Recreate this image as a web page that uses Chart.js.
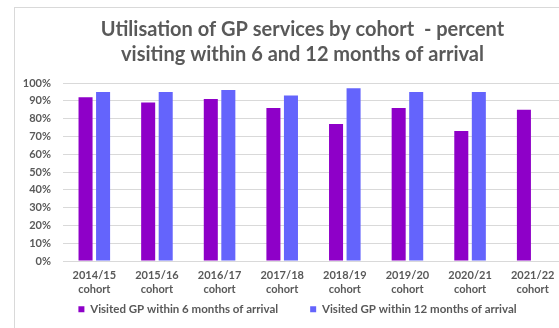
<!DOCTYPE html>
<html>
<head>
<meta charset="utf-8">
<script src="https://cdn.jsdelivr.net/npm/chart.js@4"></script>
<style>
  html, body { margin: 0; padding: 0; background: #fff; overflow: hidden; }
  #wrap { position: relative; width: 559px; height: 328px; overflow: hidden; }
  #box {
    position: absolute; left: 14px; top: 7px;
    width: 561px; height: 320px;
    border-left: 1px solid #d9d9d9; border-top: 1px solid #d9d9d9;
  }
  canvas { display: block; }
</style>
</head>
<body>
<div id="wrap"><div id="box"><canvas id="gp" width="561" height="320"></canvas></div></div>
<script>
const cohorts = ['2014/15', '2015/16', '2016/17', '2017/18', '2018/19', '2019/20', '2020/21', '2021/22'];
const within6 = [92, 89, 91, 86, 77, 86, 73, 85];
const within12 = [95, 95, 96, 93, 97, 95, 95, null];

const grey = '#595959';
const fam = "Lato, 'Open Sans', sans-serif";

// The wide gap between the two legend entries also pads the legend vertically
// in Chart.js; trim that height and lift the legend's top so it sits close
// under the axis labels (the legend is clipped to its own box).
const LEGEND_TRIM = 31.5;
const boxTweaks = {
  id: 'boxTweaks',
  afterInit(chart) {
    const lg = chart.legend;
    const fit = lg.fit;
    lg.fit = function () { fit.call(this); this.height -= LEGEND_TRIM; };
  },
  afterLayout(chart) {
    const lg = chart.legend, tb = chart.titleBlock;
    lg.top -= LEGEND_TRIM;
    lg.left += 8; lg.right += 8;
    tb.left += 13; tb.right += 13;
  }
};

new Chart(document.getElementById('gp'), {
  type: 'bar',
  data: {
    labels: cohorts.map(c => [c, 'cohort']),
    datasets: [
      { label: 'Visited GP within 6 months of arrival', data: within6, backgroundColor: '#8e00c8' },
      { label: 'Visited GP within 12 months of arrival', data: within12, backgroundColor: '#6464fc' }
    ]
  },
  plugins: [boxTweaks],
  options: {
    responsive: false,
    animation: false,
    layout: { padding: { left: 0, right: 12, bottom: 3 } },
    datasets: { bar: { categoryPercentage: 0.56, barPercentage: 0.8 } },
    scales: {
      x: {
        grid: { display: false, drawTicks: false },
        border: { display: false },
        ticks: { color: grey, font: { family: fam, size: 11, weight: 'bold', lineHeight: 1.27 }, padding: 7, maxRotation: 0 }
      },
      y: {
        min: 0, max: 100,
        afterFit(scale) { scale.width = 48; },
        grid: { color: '#d9d9d9', drawTicks: false },
        border: { display: false },
        ticks: { stepSize: 10, autoSkip: false, color: grey, padding: 12, font: { family: fam, size: 11, weight: 'bold' }, callback: v => v + '%' }
      }
    },
    plugins: {
      title: {
        display: true,
        text: ['Utilisation of GP services by cohort  - percent', 'visiting within 6 and 12 months of arrival'],
        color: grey,
        font: { family: fam, size: 20, weight: 'bold', lineHeight: 1.25 },
        padding: { top: 9, bottom: 16 }
      },
      legend: {
        position: 'bottom',
        labels: { color: grey, boxWidth: 6, boxHeight: 6, padding: 32, font: { family: fam, size: 11.5, weight: 'bold' } }
      },
      tooltip: { enabled: false }
    }
  }
});
</script>
</body>
</html>
